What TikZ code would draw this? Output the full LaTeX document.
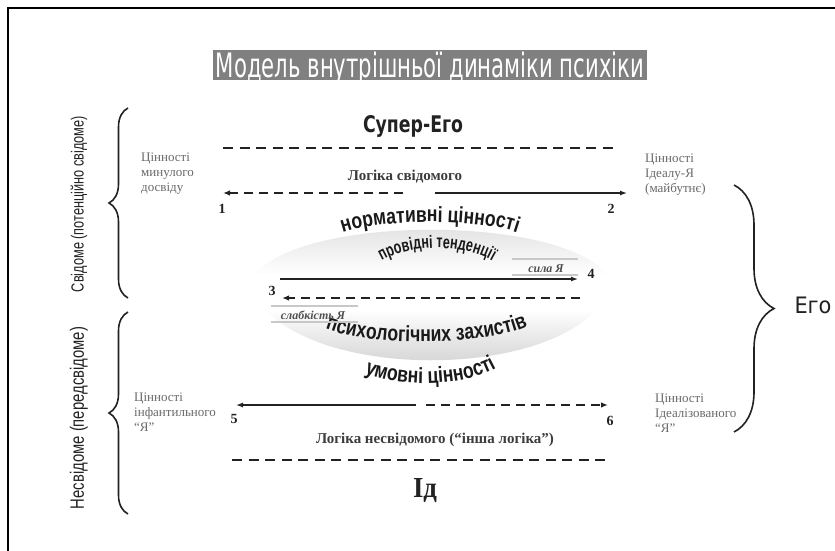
\documentclass[tikz,border=0pt]{standalone}
\usepackage{fontspec}
\usepackage{graphicx}
\setmainfont{Liberation Serif}
\setsansfont{Liberation Sans}
\setmonofont{Liberation Mono}
\newfontfamily\comicfont{DejaVu Sans}
\newfontfamily\arcfont[FakeStretch=0.8]{Liberation Sans}
\newfontfamily\arcnarrowfont[FakeStretch=0.7]{Liberation Sans}
\usetikzlibrary{decorations.text,decorations.pathreplacing,arrows.meta}
\definecolor{ink}{RGB}{34,34,34}
\definecolor{titlegray}{RGB}{128,128,128}
\definecolor{valgray}{RGB}{105,105,105}
\definecolor{logicgray}{RGB}{60,60,60}
\definecolor{smallgray}{RGB}{80,80,80}
\definecolor{bargray}{RGB}{200,200,200}
\definecolor{arcink}{RGB}{25,25,25}
\pgfdeclareverticalshading{lensshade}{100bp}{
  color(0bp)=(black!21); color(25bp)=(black!21); color(35bp)=(black!13);
  color(47bp)=(white); color(57bp)=(white); color(67bp)=(black!8);
  color(75bp)=(black!15); color(100bp)=(black!15)}
\newcommand\arcA{\arcfont\bfseries\fontsize{22}{24}\selectfont\color{arcink}}
\newcommand\arcB{\arcnarrowfont\bfseries\fontsize{18}{20}\selectfont\color{arcink}}
\tikzset{
  valtext/.style={font=\fontsize{13}{15}\selectfont, text=valgray, inner sep=0, anchor=base west},
  logictext/.style={font=\bfseries\fontsize{15}{17}\selectfont, text=logicgray, inner sep=0, anchor=base},
  numtext/.style={font=\bfseries\fontsize{14}{16}\selectfont, text=ink, inner sep=0, anchor=base},
  smalltext/.style={font=\bfseries\itshape\fontsize{12}{14}\selectfont, text=smallgray, inner sep=0, anchor=base},
  solidarrow/.style={line width=1.3pt, draw=ink, -{Latex[length=7pt,width=5pt]}},
  dasharrow/.style={line width=1.8pt, draw=ink, dash pattern=on 9pt off 6pt, -{Latex[length=7pt,width=5.5pt]}},
  levelline/.style={line width=2.2pt, draw=ink, dash pattern=on 10pt off 6.5pt},
  graybar/.style={line width=2.5pt, draw=bargray},
  bracestyle/.style={decorate, line width=1.6pt, draw=ink},
  titlebox/.style={fill=titlegray, minimum width=434pt, minimum height=30pt, inner sep=0},
  plain/.style={inner sep=0},
}
\begin{document}
\begin{tikzpicture}[x=1pt,y=-1pt]
\fill[white] (0,0) rectangle (835,551);
\useasboundingbox (0,0) rectangle (835,551);
% frame
\draw[line width=1.5pt, black] (835,8) -- (8,8) -- (8,551);

% title
\node[titlebox] (title) at (430,65) {};
\node[plain, anchor=base] (titletext) at (430,77)
  {\resizebox{428pt}{25.5pt}{\color{white}\comicfont Модель внутрішньої динаміки психіки}};

% Super-Ego
\node[plain, anchor=base, text=ink] (superego) at (413,132) {\resizebox{100pt}{17pt}{\comicfont\bfseries Супер-Его}};
\coordinate (se1) at (223,148);
\coordinate (se2) at (618,148);
\draw[levelline] (se1) -- (se2);

% values top
\node[valtext] (pastval) at (141,161) {\begin{tabular}[t]{@{}l@{}}Цінності\\минулого\\досвіду\end{tabular}};
\node[valtext] (idealval) at (645,162) {\begin{tabular}[t]{@{}l@{}}Цінності\\Ідеалу-Я\\(майбутнє)\end{tabular}};
\node[logictext] (logic1) at (405,180) {Логіка свідомого};

% arrows 1 and 2
\coordinate (a1s) at (403,193);
\coordinate (a1e) at (223,193);
\coordinate (a2s) at (435,193);
\coordinate (a2e) at (627,193);
\draw[dasharrow] (a1s) -- (a1e);
\draw[solidarrow] (a2s) -- (a2e);
\node[numtext] (n1) at (222,213) {1};
\node[numtext] (n2) at (611,213) {2};

% lens
\shade[shading=lensshade]
  (250,283) .. controls (280,212) and (582,212) .. (612,283)
  .. controls (582,386) and (280,386) .. (250,283) -- cycle;

% arched texts
\path[decorate, decoration={text along path, text align=center,
  text={|\arcA|нормативні цінності}}]
  (328,240) .. controls (358,216) and (502,216) .. (532,240);
\path[decorate, decoration={text along path, text align=center,
  text={|\arcB|провідні тенденції}}]
  (364,278) .. controls (386,238) and (488,238) .. (510,278);
\path[decorate, decoration={text along path, text align=center,
  text={|\arcA|психологічних захистів}}]
  (316,324) .. controls (354,348) and (498,348) .. (537,321);
\path[decorate, decoration={text along path, text align=center,
  text={|\arcA|умовні цінності}}]
  (352,366) .. controls (384,390) and (476,390) .. (508,360);

% sila Ya
\coordinate (b1s) at (512,259);
\coordinate (b1e) at (578,259);
\coordinate (b2s) at (512,275);
\coordinate (b2e) at (578,275);
\draw[graybar] (b1s) -- (b1e);
\draw[graybar] (b2s) -- (b2e);
\node[smalltext] (sila) at (546,272) {сила Я};

% arrows 3-4
\coordinate (a3s) at (280,279);
\coordinate (a3e) at (578,279);
\coordinate (a4s) at (580,298);
\coordinate (a4e) at (282,298);
\draw[solidarrow] (a3s) -- (a3e);
\draw[dasharrow] (a4s) -- (a4e);
\node[numtext] (n4) at (591,278) {4};
\node[numtext] (n3) at (272,295) {3};

% slabkist Ya
\coordinate (b3s) at (271,306);
\coordinate (b3e) at (358,306);
\coordinate (b4s) at (271,322);
\coordinate (b4e) at (358,322);
\draw[graybar] (b3s) -- (b3e);
\draw[graybar] (b4s) -- (b4e);
\node[smalltext] (slab) at (313,319) {слабкість Я};

% values bottom
\node[valtext] (infval) at (134,401) {\begin{tabular}[t]{@{}l@{}}Цінності\\інфантильного\\“Я”\end{tabular}};
\node[valtext] (idealizval) at (655,402) {\begin{tabular}[t]{@{}l@{}}Цінності\\Ідеалізованого\\“Я”\end{tabular}};

% arrows 5 and 6
\coordinate (a5s) at (416,405);
\coordinate (a5e) at (236,405);
\coordinate (a6s) at (426,405);
\coordinate (a6e) at (608,405);
\draw[solidarrow] (a5s) -- (a5e);
\draw[dasharrow] (a6s) -- (a6e);
\node[numtext] (n5) at (234,423) {5};
\node[numtext] (n6) at (610,425) {6};

\node[logictext] (logic2) at (435,443) {Логіка несвідомого (“інша логіка”)};
\coordinate (id1) at (232,460);
\coordinate (id2) at (608,460);
\draw[levelline] (id1) -- (id2);
\node[plain, anchor=base, text=ink] (id) at (425,497) {\resizebox{24pt}{19pt}{\bfseries Ід}};

% left braces and labels
\coordinate (lb1s) at (128,298);
\coordinate (lb1e) at (128,108);
\coordinate (lb2s) at (128,514);
\coordinate (lb2e) at (128,312);
\draw[bracestyle, decoration={brace, amplitude=19pt}] (lb1s) -- (lb1e);
\draw[bracestyle, decoration={brace, amplitude=19pt}] (lb2s) -- (lb2e);
\node[plain, rotate=90, text=ink] (conscious) at (79,204)
  {\resizebox{176pt}{13pt}{\sffamily Свідоме (потенційно свідоме)}};
\node[plain, rotate=90, text=ink] (unconscious) at (79,418)
  {\resizebox{182pt}{14pt}{\sffamily Несвідоме (передсвідоме)}};

% right brace
\coordinate (rbs) at (734,185);
\coordinate (rbe) at (734,432);
\draw[bracestyle, decoration={brace, amplitude=40pt}] (rbs) -- (rbe);
\node[plain, anchor=base, text=ink] (ego) at (813,313) {\resizebox{37pt}{16.5pt}{\comicfont Его}};
\end{tikzpicture}
\end{document}
